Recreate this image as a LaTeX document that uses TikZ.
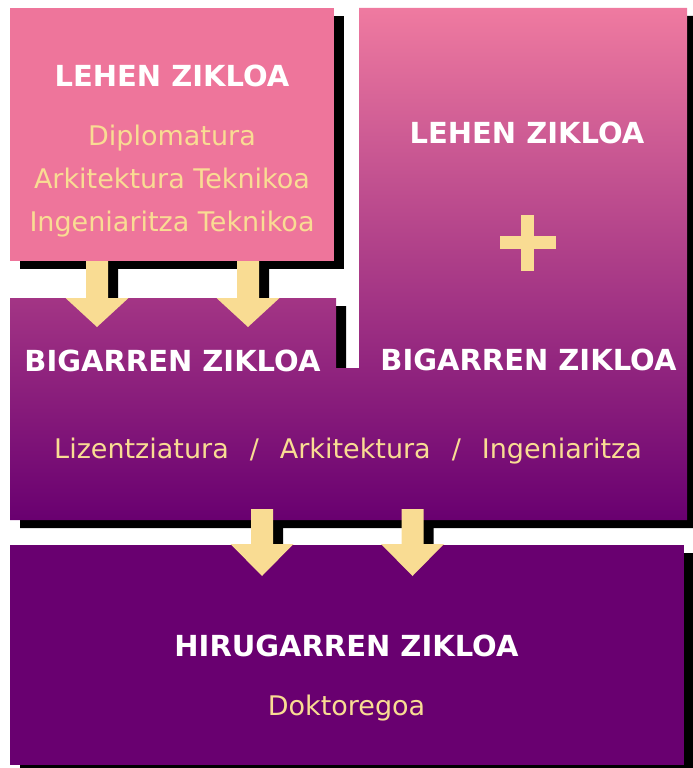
\documentclass[tikz,border=0pt]{standalone}
\usepackage{fontspec}
\setmainfont{DejaVu Sans}

\definecolor{arrosa}{HTML}{EE759B}
\definecolor{goiargi}{HTML}{EF7AA0}
\definecolor{morea}{HTML}{690070}
\definecolor{horia}{HTML}{F9DC93}

\tikzset{
  izenburua/.style={anchor=base, text=white, inner sep=0pt,
    font=\bfseries\fontsize{29}{29}\selectfont},
  ikasketa/.style={anchor=base, text=horia, inner sep=0pt,
    font=\fontsize{27}{27}\selectfont},
  itzala/.style={fill=black, shift={(10,8)}}
}

\begin{document}
\begin{tikzpicture}[x=1pt, y=-1pt]

\useasboundingbox (0,0) rectangle (693,768);

% shadows first
\fill[itzala] (10,8) rectangle (334,261);
\fill[itzala]
    (10,298) -- (336,298) -- (336,368) -- (359,368) -- (359,8)
    -- (687,8) -- (687,520) -- (10,520) -- cycle;
\fill[itzala] (10,545) rectangle (684,765);
\foreach \ax/\ay/\by/\ty in {97/261/298/327, 248/261/298/327, 262/509/544/576, 412.5/509/544/576}
    \fill[itzala] (\ax-11,\ay) -- (\ax+11,\ay) -- (\ax+11,\by) -- (\ax+31.5,\by)
        -- (\ax,\ty) -- (\ax-31.5,\by) -- (\ax-11,\by) -- cycle;

% boxes
\fill[arrosa] (10,8) rectangle (334,261);
\shade[top color=goiargi, bottom color=morea]
    (10,298) -- (336,298) -- (336,368) -- (359,368) -- (359,8)
    -- (687,8) -- (687,520) -- (10,520) -- cycle;
\fill[morea] (10,545) rectangle (684,765);

% arrows
\foreach \ax/\ay/\by/\ty in {97/261/298/327, 248/261/298/327, 262/509/544/576, 412.5/509/544/576}
    \fill[horia] (\ax-11,\ay) -- (\ax+11,\ay) -- (\ax+11,\by) -- (\ax+31.5,\by)
        -- (\ax,\ty) -- (\ax-31.5,\by) -- (\ax-11,\by) -- cycle;

% plus
\fill[horia] (521,215) rectangle (534,271);
\fill[horia] (500,236) rectangle (556,249);

% texts
\node[izenburua] (lehen1) at (172,86) {LEHEN ZIKLOA};
\node[ikasketa] (diplo) at (172,145) {Diplomatura};
\node[ikasketa] (arkitek) at (172,188) {Arkitektura Teknikoa};
\node[ikasketa] (ingetek) at (172,231) {Ingeniaritza Teknikoa};

\node[izenburua] (lehen2) at (527,143) {LEHEN ZIKLOA};
\node[izenburua] (bigarren2) at (528.5,370) {BIGARREN ZIKLOA};
\node[izenburua] (bigarren1) at (172.5,371) {BIGARREN ZIKLOA};
\node[ikasketa] (lizen) at (348,458)
    {Lizentziatura\hspace{21pt}/\hspace{21pt}Arkitektura\hspace{21pt}/\hspace{21pt}Ingeniaritza};

\node[izenburua] (hirugarren) at (346.5,656) {HIRUGARREN ZIKLOA};
\node[ikasketa] (doktor) at (346.5,715) {Doktoregoa};

\end{tikzpicture}
\end{document}
